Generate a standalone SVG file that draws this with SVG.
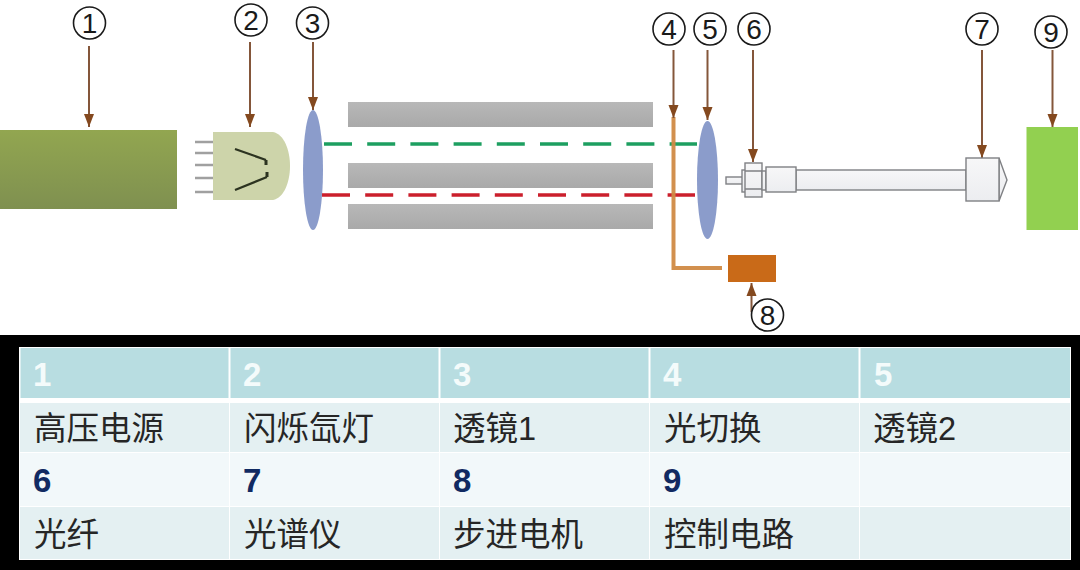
<svg xmlns="http://www.w3.org/2000/svg" width="1080" height="570" viewBox="0 0 1080 570">
<defs>
<linearGradient id="gPower" x1="0" y1="0" x2="0" y2="1"><stop offset="0" stop-color="#92a650"/><stop offset="1" stop-color="#7f9050"/></linearGradient>
<linearGradient id="gBar" x1="0" y1="0" x2="0" y2="1"><stop offset="0" stop-color="#b8b8b8"/><stop offset="1" stop-color="#a9a9a9"/></linearGradient>
<linearGradient id="gMetal" x1="0" y1="0" x2="0" y2="1"><stop offset="0" stop-color="#f7f7f8"/><stop offset="1" stop-color="#ecedf0"/></linearGradient>
<marker id="arrow" markerUnits="userSpaceOnUse" markerWidth="14" markerHeight="11" refX="13" refY="5.500" orient="auto" viewBox="0 0 14 11"><path d="M0 0.500L13 5.500L0 10.500Z" fill="#84491f"/></marker>
</defs>
<style>
.num{font-family:"Liberation Sans","Noto Sans",sans-serif;font-size:28px;fill:#1a1a1a;text-anchor:middle}
.ring{fill:#fff;stroke:#1a1a1a;stroke-width:1.6}
.lead{fill:none;stroke:#84563a;stroke-width:2;marker-end:url(#arrow)}
.bar{fill:url(#gBar)}
.lens{fill:#8b9ccb}
.pin{stroke:#a0a0a0;stroke-width:2.6}
.metal{fill:url(#gMetal);stroke:#7f8084;stroke-width:1.4}
.hd{font-family:"Liberation Sans","Noto Sans",sans-serif;font-weight:700;font-size:33px;fill:#f4fbfb}
.nm{font-family:"Liberation Sans","Noto Sans",sans-serif;font-weight:700;font-size:33px;fill:#112a62}
.cn{font-family:"Liberation Sans","Noto Sans CJK SC",sans-serif;font-size:32.500px;fill:#262626}
</style>
<rect width="1080" height="570" fill="#fff"/>
<rect id="table-bg" y="335" width="1080" height="235" fill="#000"/>

<g id="table">
<rect x="19" y="347" width="1052" height="213" fill="#fff"/>
<g fill="#b8dde1">
<rect x="20.500" y="348" width="208" height="50"/><rect x="230.500" y="348" width="208" height="50"/><rect x="440.500" y="348" width="208" height="50"/><rect x="650.500" y="348" width="208" height="50"/><rect x="860.500" y="348" width="209.500" height="50"/>
</g>
<g fill="#e4f0f2">
<rect x="20" y="403" width="209" height="49"/><rect x="230" y="403" width="209" height="49"/><rect x="440" y="403" width="209" height="49"/><rect x="650" y="403" width="209" height="49"/><rect x="860" y="403" width="210" height="49"/>
<rect x="20" y="507" width="209" height="52"/><rect x="230" y="507" width="209" height="52"/><rect x="440" y="507" width="209" height="52"/><rect x="650" y="507" width="209" height="52"/><rect x="860" y="507" width="210" height="52"/>
</g>
<g fill="#f2f8fa">
<rect x="20" y="453" width="209" height="53"/><rect x="230" y="453" width="209" height="53"/><rect x="440" y="453" width="209" height="53"/><rect x="650" y="453" width="209" height="53"/><rect x="860" y="453" width="210" height="53"/>
</g>
<text class="hd" x="33" y="386">1</text><text class="hd" x="243" y="386">2</text><text class="hd" x="453" y="386">3</text><text class="hd" x="663" y="386">4</text><text class="hd" x="874" y="386">5</text>
<text class="cn" x="34" y="440">高压电源</text><text class="cn" x="244" y="440">闪烁氙灯</text><text class="cn" x="453" y="440">透镜1</text><text class="cn" x="664" y="440">光切换</text><text class="cn" x="873" y="440">透镜2</text>
<text class="nm" x="33" y="492">6</text><text class="nm" x="243" y="492">7</text><text class="nm" x="453" y="492">8</text><text class="nm" x="663" y="492">9</text>
<text class="cn" x="34" y="546">光纤</text><text class="cn" x="244" y="546">光谱仪</text><text class="cn" x="453" y="546">步进电机</text><text class="cn" x="664" y="546">控制电路</text>
</g>

<g id="power"><rect x="0" y="130" width="177" height="79" fill="url(#gPower)"/></g>
<g id="bars"><rect class="bar" x="348" y="102" width="305" height="25"/><rect class="bar" x="348" y="163" width="305" height="25"/><rect class="bar" x="348" y="204" width="305" height="25"/></g>

<g id="lamp">
<path class="pin" d="M195 142H213M195 153H213M195 165H213M195 178H213M195 192H213" fill="none"/>
<path d="M213 132H273C284 134 290 150 290 166C290 182 284 198 273 200H213Z" fill="#cdd4aa"/>
<path d="M235 149L266 160M235 190L267 177" fill="none" stroke="#2c3320" stroke-width="2.200"/>
<path d="M266 160V165M267 177V172" fill="none" stroke="#2c3320" stroke-width="3"/>
</g>

<g id="lens1"><ellipse class="lens" cx="313" cy="170" rx="10" ry="60"/></g>
<g id="lens2"><ellipse class="lens" cx="707.500" cy="180" rx="10.500" ry="59"/></g>

<g id="connectors">
<path d="M324 144H697" fill="none" stroke="#1d9f60" stroke-width="3.600" stroke-dasharray="28 15.200"/>
<path d="M322 195H695" fill="none" stroke="#cb1f2c" stroke-width="3.600" stroke-dasharray="28 15.200"/>
<path d="M673.500 117V268H722" fill="none" stroke="#d08a45" stroke-width="4" stroke-opacity="0.950"/>
<path class="lead" d="M89 46V127"/>
<path class="lead" d="M250 42V127"/>
<path class="lead" d="M313 42V110"/>
<path class="lead" d="M673.500 50V118"/>
<path class="lead" d="M707.500 50V120"/>
<path class="lead" d="M753 50V162"/>
<path class="lead" d="M982 50V158"/>
<path class="lead" d="M1052.500 50V127"/>
<path class="lead" d="M751.500 312V283"/>
</g>

<g id="fiber">
<rect class="metal" x="726" y="177" width="18" height="7"/>
<rect class="metal" x="742" y="170" width="5" height="22"/>
<rect class="metal" x="745" y="163" width="17" height="34"/>
<path d="M745 171H762M745 189H762" stroke="#7f8084" stroke-width="1.400" fill="none"/>
<rect class="metal" x="762" y="171" width="4" height="19"/>
<rect class="metal" x="796" y="170" width="170" height="20"/>
<rect class="metal" x="766" y="167" width="30" height="25"/>
</g>

<g id="spectrometer">
<path class="metal" d="M999 158L1007 180L999 201Z"/>
<rect class="metal" x="966" y="158" width="33" height="43"/>
</g>

<g id="motor"><rect x="728" y="255" width="48" height="27" fill="#c96a18"/></g>
<g id="control"><rect x="1026.500" y="127" width="51.500" height="103" fill="#92d050"/></g>

<g id="n1"><circle class="ring" cx="89.500" cy="23" r="16"/><text class="num" x="89.500" y="33">1</text></g>
<g id="n2"><circle class="ring" cx="251" cy="20" r="16"/><text class="num" x="251" y="30">2</text></g>
<g id="n3"><circle class="ring" cx="312.500" cy="23" r="16"/><text class="num" x="312.500" y="33">3</text></g>
<g id="n4"><circle class="ring" cx="669" cy="29" r="16"/><text class="num" x="669" y="39">4</text></g>
<g id="n5"><circle class="ring" cx="710" cy="29" r="16"/><text class="num" x="710" y="39">5</text></g>
<g id="n6"><circle class="ring" cx="754" cy="29" r="16"/><text class="num" x="754" y="39">6</text></g>
<g id="n7"><circle class="ring" cx="982" cy="29" r="16"/><text class="num" x="982" y="39">7</text></g>
<g id="n8"><circle class="ring" cx="767.500" cy="315" r="16"/><text class="num" x="767.500" y="325">8</text></g>
<g id="n9"><circle class="ring" cx="1051" cy="32" r="16"/><text class="num" x="1051" y="42">9</text></g>
</svg>
